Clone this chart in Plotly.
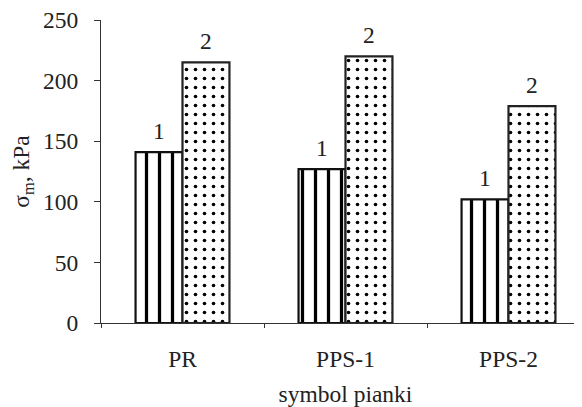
import plotly.graph_objects as go

categories = ["PR", "PPS-1", "PPS-2"]
series1 = [141, 127, 102]
series2 = [215, 220, 179]
series_labels = ["1", "2"]
y_ticks = [0, 50, 100, 150, 200, 250]

FONT = "Liberation Serif"
FS = 23.5
BAR_W = 0.288

fig = go.Figure()
fig.add_trace(go.Bar(
    x=categories, y=series1, name=series_labels[0], width=BAR_W,
    marker=dict(color="white", line=dict(color="#111111", width=2.2),
                pattern=dict(shape="|", size=13, solidity=0.25, fgcolor="#000000",
                             fgopacity=1, bgcolor="white")),
))
fig.add_trace(go.Bar(
    x=categories, y=series2, name=series_labels[1], width=BAR_W,
    marker=dict(color="white", line=dict(color="#222222", width=2.2),
                pattern=dict(shape=".", size=9, solidity=0.13, fgcolor="#000000",
                             fgopacity=1, bgcolor="white")),
))

annotations = []
for i, (v1, v2) in enumerate(zip(series1, series2)):
    for off, v, lab in ((-BAR_W / 2, v1, series_labels[0]), (BAR_W / 2, v2, series_labels[1])):
        annotations.append(dict(x=i + off, y=v, text=lab, showarrow=False, yanchor="bottom",
                                yshift=6, font=dict(family=FONT, size=FS, color="#222222")))

fig.update_layout(
    width=582, height=407,
    margin=dict(l=93, r=0, t=12, b=92),
    barmode="group", bargap=0.424, bargroupgap=0,
    showlegend=False,
    plot_bgcolor="white", paper_bgcolor="white",
    font=dict(family=FONT, size=FS, color="#222222"),
    annotations=annotations,
    xaxis=dict(
        range=[-0.5, 2.5], showline=True, linecolor="#333333", linewidth=1.3,
        ticks="outside", tickson="boundaries", ticklen=4, tickcolor="#333333",
        ticklabelstandoff=15, tickfont=dict(family=FONT, size=FS, color="#222222"),
        automargin=False,
        title=dict(text="symbol pianki", font=dict(family=FONT, size=FS, color="#222222"),
                   standoff=14),
        showgrid=False, zeroline=False,
    ),
    yaxis=dict(
        range=[0, 250], tickvals=y_ticks, showline=True, linecolor="#333333", linewidth=1.3,
        ticks="outside", ticklen=6, tickcolor="#333333", ticklabelstandoff=11,
        ticklabeloverflow="allow",
        tickfont=dict(family=FONT, size=FS, color="#222222"), automargin=False,
        title=dict(text="σ<sub>m</sub>, kPa", font=dict(family=FONT, size=FS, color="#222222"),
                   standoff=13),
        showgrid=False, zeroline=False,
    ),
)

fig.write_html("out.html")
